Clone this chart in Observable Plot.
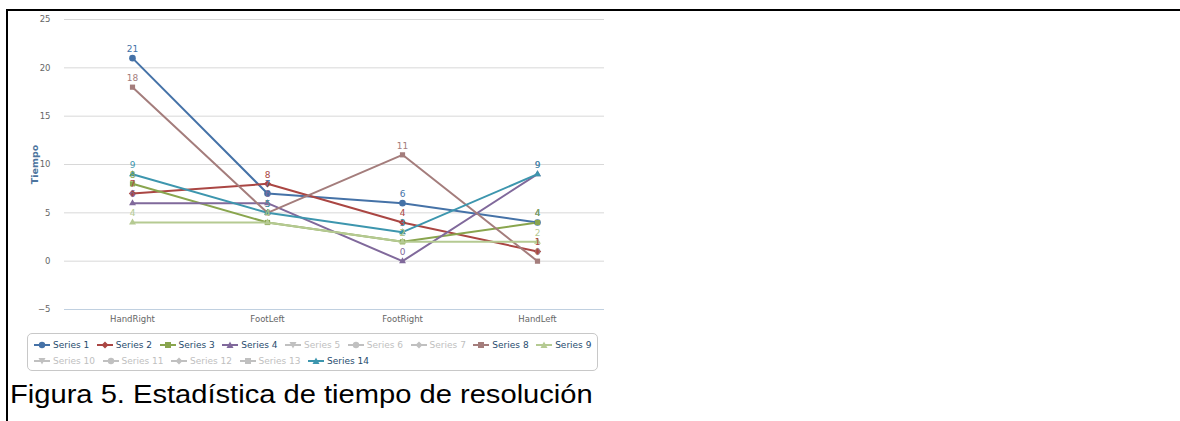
<!DOCTYPE html>
<html>
<head>
<meta charset="utf-8">
<script src="https://cdn.jsdelivr.net/npm/d3@7"></script>
<script src="https://cdn.jsdelivr.net/npm/@observablehq/plot@0.6"></script>
<style>
  html, body { margin: 0; padding: 0; background: #fff; width: 1180px; height: 421px; overflow: hidden; position: relative; }
  #frame { position: absolute; left: 6px; top: 9px; width: 1180px; height: 420px; border-top: 2px solid #000; border-left: 2px solid #000; }
  #chart { position: absolute; left: 0; top: 0; }
  #legend { position: absolute; left: 27px; top: 333px; width: 571px; height: 38px; border: 1px solid #c8c8c8; border-radius: 5px; box-sizing: border-box; font-family: "DejaVu Sans", sans-serif; font-size: 9px; padding: 3px 0 0 6px; }
  .row { display: flex; height: 16px; align-items: center; white-space: nowrap; }
  .item { display: flex; align-items: center; margin-right: 7.5px; color: #274b6d; }
  .item.off { color: #c0c0c0; }
  .item svg { margin-right: 3px; }
  #caption { position: absolute; left: 10px; top: 379px; font-family: "Liberation Sans", Arial, sans-serif; font-size: 26px; line-height: 30px; color: #000; white-space: nowrap; transform: scaleX(1.12); transform-origin: 0 0; }
</style>
</head>
<body>
<div id="frame"></div>
<div id="chart"></div>
<div id="legend"></div>
<div id="caption">Figura 5. Estadística de tiempo de resolución</div>
<script>
const categories = ["HandRight", "FootLeft", "FootRight", "HandLeft"];
const yTicks = [-5, 0, 5, 10, 15, 20, 25];

const series1 = [21, 7, 6, 4];
const series2 = [7, 8, 4, 1];
const series3 = [8, 4, 2, 4];
const series4 = [6, 6, 0, 9];
const series8 = [18, 5, 11, 0];
const series9 = [4, 4, 2, 2];
const series14 = [9, 5, 3, 9];

const visibleNames = ["Series 1", "Series 2", "Series 3", "Series 4", "Series 8", "Series 9", "Series 14"];
const visibleValues = [series1, series2, series3, series4, series8, series9, series14];
const visibleColors = ["#4572A7", "#AA4643", "#89A54E", "#80699B", "#A47D7C", "#B5CA92", "#3D96AE"];
const visibleSymbols = ["circle", "diamond2", "square2", "triangle2", "square2", "triangle2", "triangle2"];

const legendNames = ["Series 1","Series 2","Series 3","Series 4","Series 5","Series 6","Series 7","Series 8","Series 9","Series 10","Series 11","Series 12","Series 13","Series 14"];
const legendColors = ["#4572A7","#AA4643","#89A54E","#80699B","#3D96AE","#DB843D","#92A8CD","#A47D7C","#B5CA92","#4572A7","#AA4643","#89A54E","#80699B","#3D96AE"];
const legendVisible = [true,true,true,true,false,false,false,true,true,false,false,false,false,true];

const rows = visibleNames.flatMap((name, i) =>
  categories.map((cat, j) => ({ series: name, cat, value: visibleValues[i][j] }))
);

const chart = Plot.plot({
  width: 620,
  height: 330,
  marginLeft: 64,
  marginRight: 16,
  marginTop: 19,
  marginBottom: 21,
  style: { fontFamily: "DejaVu Sans, sans-serif", background: "transparent", overflow: "visible" },
  x: { type: "point", domain: categories, padding: 0.5 },
  y: { domain: [-5, 25] },
  color: { domain: visibleNames, range: visibleColors },
  symbol: { domain: visibleNames, range: visibleSymbols },
  marks: [
    Plot.gridY(yTicks, { stroke: "#d8d8d8", strokeOpacity: 1, strokeWidth: 1 }),
    Plot.ruleY([-5], { stroke: "#c0d0e0", strokeWidth: 1 }),
    Plot.axisX({ tickSize: 0, tickPadding: 6, fontSize: 8.5, color: "#666", label: null }),
    Plot.axisY(yTicks, { tickSize: 0, tickPadding: 14, fontSize: 8.5, color: "#666",
      label: "Tiempo", labelAnchor: "center", labelArrow: "none", labelOffset: 33 }),
    Plot.line(rows, { x: "cat", y: "value", z: "series", stroke: "series", strokeWidth: 2 }),
    Plot.dot(rows, { x: "cat", y: "value", fill: "series", symbol: "series", r: 3.3, stroke: null }),
    Plot.text(rows, { x: "cat", y: "value", text: d => String(d.value), fill: "series", dy: -9, fontSize: 9 })
  ]
});
chart.querySelectorAll("[aria-label='y-axis label'] text, g[aria-label='y-axis label']").forEach(el => {
  el.setAttribute("fill", "#4d759e"); el.setAttribute("font-weight", "bold"); el.setAttribute("font-size", "9.5");
});
document.getElementById("chart").appendChild(chart);

// legend
const legend = document.getElementById("legend");
const symbolFor = i => ["circle","diamond","square","triangle","triangledown"][i % 5];
function symbolSvg(color, kind) {
  let shape;
  if (kind === "circle") shape = `<circle cx="8" cy="5" r="3.2" fill="${color}"/>`;
  else if (kind === "diamond") shape = `<path d="M8 1.5 L11.5 5 L8 8.5 L4.5 5Z" fill="${color}"/>`;
  else if (kind === "square") shape = `<rect x="5" y="2" width="6" height="6" fill="${color}"/>`;
  else if (kind === "triangle") shape = `<path d="M8 1.5 L11.5 8 L4.5 8Z" fill="${color}"/>`;
  else shape = `<path d="M8 8.5 L11.5 2 L4.5 2Z" fill="${color}"/>`;
  return `<svg width="16" height="10"><line x1="0" y1="5" x2="16" y2="5" stroke="${color}" stroke-width="2"/>${shape}</svg>`;
}
const rowSplits = [[0, 9], [9, 14]];
rowSplits.forEach(([a, b]) => {
  const row = document.createElement("div");
  row.className = "row";
  for (let i = a; i < b; i++) {
    const item = document.createElement("div");
    item.className = "item" + (legendVisible[i] ? "" : " off");
    const c = legendVisible[i] ? legendColors[i] : "#c0c0c0";
    item.innerHTML = symbolSvg(c, symbolFor(i)) + `<span>${legendNames[i]}</span>`;
    row.appendChild(item);
  }
  legend.appendChild(row);
});
</script>
</body>
</html>
